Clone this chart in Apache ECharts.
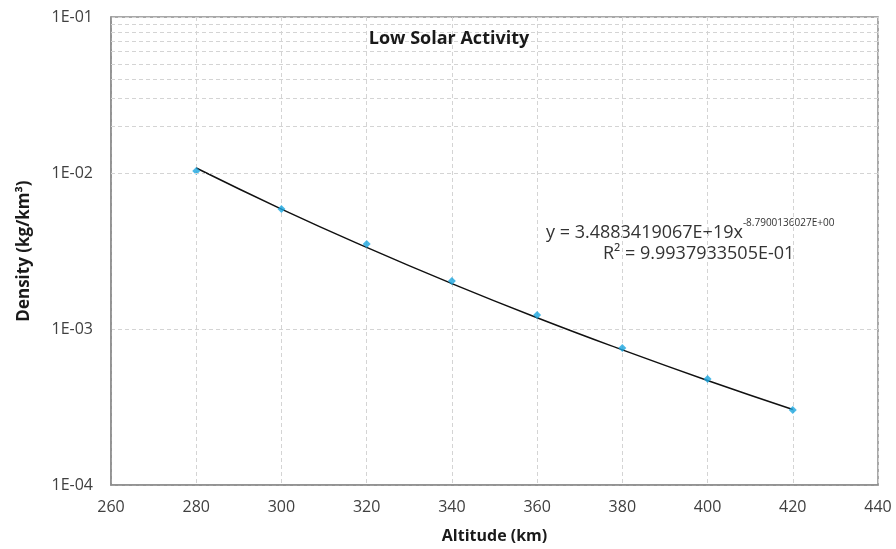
<!DOCTYPE html>
<html>
<head>
<meta charset="utf-8">
<script src="https://cdn.jsdelivr.net/npm/echarts@6/dist/echarts.min.js"></script>
<style>
  html, body { margin: 0; padding: 0; background: #fff; }
  #chart { width: 896px; height: 549px; }
</style>
</head>
<body>
<div id="chart"></div>
<script>
// Measured atmospheric density at each altitude (low solar activity)
const altitudes = [280, 300, 320, 340, 360, 380, 400, 420];
const densities = [0.0103, 0.00588, 0.00351, 0.00203, 0.00123, 0.000755, 0.000478, 0.000303];
// Power-law trendline values at the same altitudes
const trendValues = [0.01076, 0.005873, 0.003334, 0.001954, 0.001181, 0.000735, 0.000468, 0.000305];
// Minor grid values between decades
const minorGridValues = [
  2e-4, 3e-4, 4e-4, 5e-4, 6e-4, 7e-4, 8e-4, 9e-4,
  2e-3, 3e-3, 4e-3, 5e-3, 6e-3, 7e-3, 8e-3, 9e-3,
  2e-2, 3e-2, 4e-2, 5e-2, 6e-2, 7e-2, 8e-2, 9e-2
];
const titleText = 'Low Solar Activity';
const equationCoeff = '3.4883419067E+19';
const equationExp = '-8.7900136027E+00';
const rSquared = '9.9937933505E-01';

const FONT = '"Open Sans", "Liberation Sans", sans-serif';
const gridColor = '#d4d4d4';
const textColor = '#404040';

function sciLabel(v) {
  const e = Math.round(Math.log10(v));
  const a = Math.abs(e);
  return '1E' + (e < 0 ? '-' : '+') + (a < 10 ? '0' + a : String(a));
}

const chart = echarts.init(document.getElementById('chart'));
chart.setOption({
  animation: false,
  backgroundColor: '#ffffff',
  title: {
    text: titleText,
    left: 444,
    top: 25,
    textAlign: 'center',
    textStyle: { fontFamily: FONT, fontSize: 18, fontWeight: 'bold', color: '#1a1a1a' }
  },
  grid: {
    left: 111, right: 18, top: 17, bottom: 64,
    show: true, borderColor: '#8c8c8c', borderWidth: 1.5, backgroundColor: 'transparent'
  },
  xAxis: {
    type: 'value',
    min: 260, max: 440, interval: 20,
    name: 'Altitude (km)',
    nameLocation: 'middle',
    nameGap: 43,
    nameTextStyle: { fontFamily: FONT, fontSize: 16, fontWeight: 'bold', color: '#1a1a1a' },
    axisLine: { show: true, lineStyle: { color: '#8c8c8c', width: 1.5 } },
    axisTick: { show: false },
    axisLabel: { fontFamily: FONT, fontSize: 16, color: textColor, margin: 14 },
    splitLine: { show: true, lineStyle: { color: gridColor, type: [4, 3], width: 1 } }
  },
  yAxis: {
    type: 'log',
    logBase: 10,
    min: 1e-4, max: 1e-1,
    name: 'Density (kg/km³)',
    nameLocation: 'middle',
    nameGap: 78,
    nameRotate: 90,
    nameTextStyle: { fontFamily: FONT, fontSize: 17, fontWeight: 'bold', color: '#1a1a1a' },
    axisLine: { show: true, lineStyle: { color: '#8c8c8c', width: 1.5 } },
    axisTick: { show: false },
    axisLabel: { fontFamily: FONT, fontSize: 16, color: textColor, margin: 18, formatter: sciLabel },
    splitLine: { show: true, lineStyle: { color: gridColor, type: [4, 3], width: 1 } }
  },
  series: [
    {
      name: 'grid',
      type: 'line',
      data: [],
      silent: true,
      markLine: {
        silent: true,
        symbol: ['none', 'none'],
        label: { show: false },
        lineStyle: { color: gridColor, type: [4, 3], width: 1 },
        data: minorGridValues.map(v => ({ yAxis: v }))
      }
    },
    {
      name: 'Trend',
      type: 'line',
      data: altitudes.map((a, i) => [a, trendValues[i]]),
      showSymbol: false,
      smooth: true,
      lineStyle: { color: '#111111', width: 1.5 },
      z: 3
    },
    {
      name: 'Density',
      type: 'scatter',
      data: altitudes.map((a, i) => [a, densities[i]]),
      symbol: 'diamond',
      symbolSize: 8,
      itemStyle: { color: '#1aa6e0' },
      z: 4
    }
  ],
  graphic: [
    {
      type: 'text',
      left: 546,
      top: 218,
      style: {
        text: '{b|y = ' + equationCoeff + 'x}{s|' + equationExp + '}',
        rich: {
          b: { fontFamily: FONT, fontSize: 18, fill: '#333333', verticalAlign: 'bottom', lineHeight: 24 },
          s: { fontFamily: FONT, fontSize: 10, fill: '#333333', verticalAlign: 'top', lineHeight: 24 }
        }
      }
    },
    {
      type: 'text',
      left: 603,
      top: 245,
      style: {
        text: 'R² = ' + rSquared,
        fontFamily: FONT, fontSize: 18, fill: '#333333'
      }
    }
  ]
});
</script>
</body>
</html>
